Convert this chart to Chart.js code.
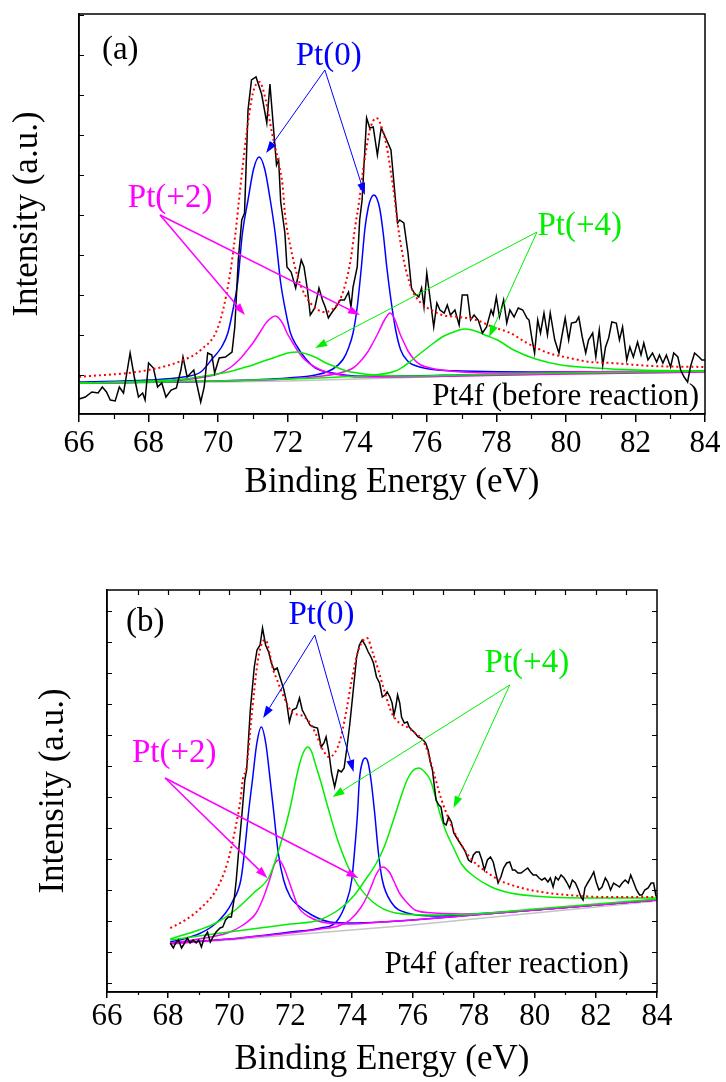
<!DOCTYPE html>
<html>
<head>
<meta charset="utf-8">
<script src="https://cdn.jsdelivr.net/npm/chart.js@4.4.1/dist/chart.umd.min.js"></script>
<style>
  html, body { margin: 0; padding: 0; background: #fff; }
  #wrap { position: relative; width: 726px; height: 1082px; }
  .panel { position: absolute; left: 0; width: 726px; }
  #pa { top: 0; height: 510px; }
  #pb { top: 540px; height: 542px; }
</style>
</head>
<body>
<div id="wrap">
  <div class="panel" id="pa"><canvas id="chart-a"></canvas></div>
  <div class="panel" id="pb"><canvas id="chart-b"></canvas></div>
</div>
<script>
// ---------------- data: [binding energy (eV), intensity (a.u.)] ----------------
// (a) before reaction
const aRaw = [[66.0,15],[66.18,17],[66.37,22],[66.55,21],[66.67,27],[66.79,22],[66.9,14],[67.04,13],[67.16,27],[67.28,21],[67.47,61],[67.59,37],[67.71,17],[67.83,21],[67.9,14],[68.0,51],[68.14,46],[68.26,27],[68.38,31],[68.5,17],[68.65,24],[68.8,26],[68.93,44],[68.99,57],[69.11,37],[69.3,44],[69.38,31],[69.5,12],[69.6,27],[69.7,61],[69.82,59],[69.9,41],[70.03,56],[70.21,57],[70.4,62],[70.48,87],[70.58,154],[70.68,194],[70.76,201],[70.86,304],[70.96,334],[71.09,337],[71.25,320],[71.4,291],[71.49,330],[71.62,274],[71.68,249],[71.74,254],[71.8,212],[71.92,181],[71.98,147],[72.1,142],[72.23,126],[72.39,154],[72.47,147],[72.57,124],[72.65,99],[72.78,106],[72.9,126],[73.0,114],[73.08,107],[73.17,96],[73.26,101],[73.39,107],[73.51,114],[73.63,114],[73.75,122],[73.82,107],[73.88,127],[74.0,147],[74.07,194],[74.14,214],[74.27,296],[74.36,286],[74.46,287],[74.58,259],[74.69,286],[74.82,276],[74.97,264],[75.1,214],[75.16,191],[75.22,194],[75.34,191],[75.46,161],[75.56,126],[75.64,121],[75.77,117],[75.85,126],[75.92,107],[76.0,141],[76.09,117],[76.2,87],[76.29,111],[76.38,104],[76.5,101],[76.59,109],[76.68,99],[76.81,104],[76.93,89],[77.02,119],[77.17,119],[77.26,94],[77.36,99],[77.48,94],[77.6,81],[77.72,87],[77.85,104],[77.91,99],[78.0,117],[78.09,97],[78.21,114],[78.3,91],[78.39,104],[78.51,97],[78.63,106],[78.76,104],[78.88,96],[78.94,94],[79.03,74],[79.1,61],[79.19,94],[79.27,81],[79.37,101],[79.47,79],[79.55,101],[79.68,74],[79.8,61],[79.88,77],[79.98,96],[80.08,74],[80.16,91],[80.29,92],[80.37,97],[80.47,77],[80.57,61],[80.65,74],[80.77,81],[80.86,57],[80.96,84],[81.06,49],[81.14,67],[81.23,76],[81.32,92],[81.45,91],[81.54,74],[81.63,87],[81.75,54],[81.84,67],[81.94,57],[82.06,72],[82.16,59],[82.24,71],[82.36,54],[82.49,61],[82.61,52],[82.69,59],[82.79,51],[82.89,59],[83.01,47],[83.1,61],[83.22,57],[83.3,44],[83.4,37],[83.5,32],[83.58,47],[83.7,61],[83.83,57],[83.91,54],[84.0,54]];
const aFit = [[66,37],[68,44],[69,54],[69.5,64],[70,87],[70.3,131],[70.5,181],[70.6,214],[70.82,281],[71.0,321],[71.19,332],[71.37,314],[71.55,281],[71.74,251],[71.86,227],[71.92,201],[72.1,164],[72.29,137],[72.53,117],[72.77,107],[73.02,102],[73.26,104],[73.5,114],[73.69,134],[73.81,154],[73.94,187],[74.06,214],[74.18,247],[74.27,267],[74.36,284],[74.55,296],[74.73,284],[74.85,267],[74.97,241],[75.07,217],[75.16,191],[75.28,164],[75.4,144],[75.58,124],[75.83,111],[76.13,104],[76.44,99],[76.93,97],[77.42,94],[77.9,87],[78.4,81],[78.88,71],[79.5,61],[80.1,56],[80.7,52],[81.3,51],[82.5,48],[84,47]];
const aBase = [[66,31],[70,32],[72,33],[74,35],[76,37],[78,39],[80,40],[84,42]];
const aPt0Low = [[66,32],[68,34],[69,37],[69.5,42],[69.85,56],[70.1,67],[70.28,81],[70.42,103],[70.56,131],[70.7,181],[70.86,214],[71.02,245],[71.18,257],[71.34,245],[71.5,214],[71.64,181],[71.8,131],[71.94,103],[72.08,81],[72.28,67],[72.5,56],[72.8,46],[73.3,41],[74,38],[75,38],[77,39],[80,41],[84,43]];
const aPt0High = [[66,31],[70,33],[72,36],[72.8,39],[73.3,45],[73.6,55],[73.75,66],[73.88,81],[74.0,107],[74.12,147],[74.22,185],[74.32,207],[74.4,216],[74.48,219],[74.56,216],[74.65,205],[74.75,180],[74.85,147],[74.97,114],[75.1,85],[75.25,64],[75.45,53],[75.8,47],[76.3,44],[77,43],[79,42],[84,43]];
const aPt2Low = [[66,31],[68,32],[69,34],[69.6,37],[70.0,40],[70.33,46],[70.6,54],[70.82,63],[71.0,71],[71.19,81],[71.4,92],[71.65,98],[71.85,91],[71.98,81],[72.15,71],[72.29,63],[72.5,54],[72.78,47],[73.1,42],[73.5,39],[74,37],[75,37],[77,38],[80,40],[84,42]];
const aPt2High = [[66,31],[70,33],[72,35],[73,38],[73.5,41],[73.88,46],[74.1,53],[74.3,62],[74.45,71],[74.6,81],[74.8,95],[74.95,101],[75.1,93],[75.22,81],[75.35,71],[75.46,63],[75.65,54],[75.83,49],[76.1,46],[76.44,44],[77,42],[78,41],[80,42],[84,43]];
const aPt4Low = [[66,31],[68,33],[69,35],[69.97,40],[70.4,43],[70.7,46],[71.0,49],[71.4,54],[71.74,58],[72.0,61],[72.3,62],[72.55,60],[72.84,56],[73.1,51],[73.39,47],[73.7,43],[74.0,41],[74.5,39],[75.5,38],[77,39],[80,41],[84,43]];
const aPt4High = [[66,31],[70,33],[72,35],[73.5,37],[74.5,39],[75.1,43],[75.35,48],[75.58,54],[75.9,63],[76.2,71],[76.44,77],[76.7,81],[76.93,84],[77.1,85],[77.3,84],[77.48,82],[77.75,78],[78.03,74],[78.5,64],[79.13,55],[79.86,49],[80.84,46],[82.06,44],[84,43]];

// (b) after reaction
const bRaw = [[68.07,49],[68.17,44],[68.25,49],[68.34,52],[68.44,44],[68.54,49],[68.63,54],[68.72,49],[68.82,52],[68.92,49],[69.0,52],[69.09,45],[69.19,55],[69.29,60],[69.38,50],[69.47,55],[69.57,60],[69.7,64],[69.79,65],[69.88,72],[69.97,75],[70.07,75],[70.17,95],[70.23,112],[70.32,145],[70.42,179],[70.51,212],[70.57,222],[70.69,282],[70.82,325],[70.91,342],[71.01,347],[71.09,364],[71.19,347],[71.29,340],[71.38,329],[71.47,322],[71.57,324],[71.69,312],[71.79,302],[71.88,289],[71.97,270],[72.07,282],[72.2,284],[72.3,294],[72.39,282],[72.51,275],[72.64,267],[72.76,265],[72.89,264],[73.01,245],[73.1,249],[73.17,255],[73.26,240],[73.35,219],[73.45,205],[73.57,222],[73.67,220],[73.76,224],[73.85,244],[73.95,269],[74.07,305],[74.17,335],[74.26,347],[74.35,352],[74.45,347],[74.55,340],[74.64,335],[74.72,329],[74.82,315],[74.92,309],[75.01,295],[75.1,297],[75.17,300],[75.26,295],[75.33,289],[75.39,277],[75.45,285],[75.51,297],[75.58,289],[75.64,275],[75.73,269],[75.83,270],[75.89,265],[75.98,262],[76.08,259],[76.18,255],[76.26,254],[76.35,252],[76.43,249],[76.51,242],[76.58,230],[76.65,222],[76.7,209],[76.77,192],[76.86,187],[76.93,185],[77.02,169],[77.1,167],[77.18,175],[77.27,170],[77.35,159],[77.45,154],[77.55,149],[77.64,145],[77.73,140],[77.83,132],[77.92,130],[77.99,137],[78.08,140],[78.18,140],[78.27,132],[78.35,122],[78.45,132],[78.55,135],[78.64,130],[78.7,122],[78.8,109],[78.89,115],[78.98,124],[79.08,129],[79.18,130],[79.27,122],[79.35,122],[79.45,119],[79.55,119],[79.68,122],[79.77,124],[79.86,120],[79.95,117],[80.05,117],[80.14,114],[80.23,112],[80.33,114],[80.43,110],[80.51,114],[80.6,105],[80.68,115],[80.77,112],[80.86,117],[80.96,114],[81.06,109],[81.14,104],[81.23,112],[81.33,109],[81.43,102],[81.51,95],[81.58,92],[81.64,104],[81.73,109],[81.83,114],[81.93,120],[82.01,110],[82.1,102],[82.2,105],[82.31,114],[82.39,110],[82.48,102],[82.58,109],[82.68,107],[82.77,105],[82.86,109],[82.96,112],[83.06,109],[83.14,117],[83.23,110],[83.33,102],[83.43,97],[83.51,97],[83.6,102],[83.71,104],[83.81,109],[83.89,109],[83.96,97],[84.0,94]];
const bFit = [[68.07,64],[68.57,72],[69.07,84],[69.57,102],[69.94,129],[70.19,162],[70.38,195],[70.44,212],[70.57,225],[70.69,262],[70.82,302],[70.94,332],[71.07,349],[71.19,352],[71.32,339],[71.44,322],[71.57,312],[71.69,302],[71.88,289],[72.07,279],[72.32,277],[72.57,272],[72.82,259],[73.07,242],[73.26,235],[73.45,239],[73.63,252],[73.82,279],[74.01,312],[74.2,339],[74.35,350],[74.51,354],[74.7,339],[74.88,322],[75.07,302],[75.32,279],[75.57,269],[75.82,265],[76.08,259],[76.33,252],[76.51,239],[76.64,225],[76.76,212],[76.95,192],[77.2,172],[77.45,155],[77.7,142],[77.95,132],[78.33,122],[78.83,112],[79.45,105],[80.21,100],[81.08,97],[82.33,95],[84,95]];
const bBase = [[68.07,48],[70,52],[72,57],[74,62],[76,67],[78,73],[80,79],[82,85],[84,91]];
const bPt0Low = [[68.07,50],[68.5,53],[69,58],[69.5,67],[69.88,79],[70.1,90],[70.38,112],[70.5,140],[70.63,179],[70.76,212],[70.9,248],[71.05,265],[71.2,248],[71.34,212],[71.46,179],[71.6,140],[71.78,112],[72,95],[72.2,88],[72.7,77],[73.3,70],[74,69],[75,70],[76,72],[78,77],[80,82],[82,87],[84,92]];
const bPt0High = [[68.07,49],[70,53],[72,60],[73,64],[73.5,70],[73.82,89],[74.01,112],[74.1,140],[74.2,179],[74.26,212],[74.36,230],[74.45,234],[74.54,230],[74.64,212],[74.76,179],[74.88,140],[75.01,112],[75.32,89],[75.82,79],[76.7,76],[78,78],[80,82],[82,87],[84,92]];
const bPt2Low = [[68.07,49],[69,53],[69.94,59],[70.4,66],[70.88,79],[71.1,93],[71.32,112],[71.5,129],[71.63,132],[71.78,125],[71.94,112],[72.1,98],[72.26,85],[72.63,75],[73.2,69],[74,68],[75,70],[76,72],[78,77],[80,82],[82,87],[84,92]];
const bPt2High = [[68.07,48],[70,53],[72,59],[73,63],[73.57,66],[73.95,72],[74.32,85],[74.5,95],[74.64,105],[74.8,117],[74.95,124],[75.05,125],[75.15,123],[75.26,119],[75.4,110],[75.57,99],[75.8,90],[76.08,82],[76.7,79],[78,78],[80,82],[82,87],[84,92]];
const bPt4Low = [[68.07,53],[69,62],[69.57,69],[70.2,82],[70.8,99],[71.32,116],[71.7,150],[72.0,185],[72.2,215],[72.32,230],[72.45,241],[72.57,245],[72.7,240],[72.82,228],[73.0,210],[73.2,188],[73.57,150],[74.07,114],[74.7,90],[75.45,79],[76.5,77],[78,78],[80,83],[82,88],[84,93]];
const bPt4High = [[68.07,52],[69,56],[70,60],[71,64],[72,68],[72.95,72],[73.7,85],[74.1,97],[74.45,112],[74.8,128],[75.07,145],[75.3,165],[75.45,179],[75.65,198],[75.82,212],[76.0,221],[76.2,224],[76.4,220],[76.58,212],[76.75,195],[76.89,179],[77.1,160],[77.33,145],[77.6,128],[77.95,117],[78.58,105],[79.2,99],[80.45,95],[82,94],[84,94]];

// axis ticks (no labels on y)
const xTickLabels = [66, 68, 70, 72, 74, 76, 78, 80, 82, 84];
const xMinorTicks = [67, 69, 71, 73, 75, 77, 79, 81, 83];
const xTopTicksB = [67, 68, 69, 70, 71, 72, 73, 74, 75, 76, 77, 78, 79, 80, 81, 82, 83];
const yTicksA = [39, 79, 119, 159, 199, 239, 279, 319, 359, 399];
const yTicksB = [9, 40, 71, 102, 133, 164, 195, 226, 257, 288, 319, 350, 381];

// ---------------- styling ----------------
const SERIF = "'Liberation Serif', 'Times New Roman', serif";
const C = { blue: '#0000ff', magenta: '#ff00ff', green: '#00ee00', red: '#ff0000', grey: '#c4c4c4', black: '#000' };

const pts = arr => arr.map(p => ({ x: p[0], y: p[1] }));

function curve(arr, color, extra) {
  return Object.assign({
    data: pts(arr), borderColor: color, borderWidth: 1.5, pointRadius: 0,
    fill: false, cubicInterpolationMode: 'monotone', order: 2,
  }, extra || {});
}

// frame + inward/minor ticks
const framePlugin = {
  id: 'frame',
  afterDraw(chart, args, o) {
    const { ctx, chartArea: ca, scales: { x, y } } = chart;
    ctx.save();
    ctx.strokeStyle = '#000';
    ctx.lineWidth = 1.5;
    ctx.strokeRect(ca.left, ca.top, ca.right - ca.left, ca.bottom - ca.top);
    ctx.lineWidth = 1.2;
    ctx.beginPath();
    (o.left || []).forEach(v => { const py = Math.round(y.getPixelForValue(v)) + 0.5; ctx.moveTo(ca.left, py); ctx.lineTo(ca.left + o.inLen, py); });
    (o.right || []).forEach(v => { const py = Math.round(y.getPixelForValue(v)) + 0.5; ctx.moveTo(ca.right, py); ctx.lineTo(ca.right - o.inLen, py); });
    (o.top || []).forEach(v => { const px = Math.round(x.getPixelForValue(v)) + 0.5; ctx.moveTo(px, ca.top); ctx.lineTo(px, ca.top + o.inLen); });
    (o.minor || []).forEach(v => { const px = Math.round(x.getPixelForValue(v)) + 0.5; ctx.moveTo(px, ca.bottom); ctx.lineTo(px, ca.bottom + o.minorLen); });
    ctx.stroke();
    ctx.restore();
  }
};

// labels + arrows placed in data coordinates
const notesPlugin = {
  id: 'notes',
  afterDatasetsDraw(chart, args, o) {
    const { ctx, scales: { x, y } } = chart;
    ctx.save();
    (o.arrows || []).forEach(a => {
      const x1 = x.getPixelForValue(a.from[0]), y1 = y.getPixelForValue(a.from[1]);
      a.to.forEach(t => {
        const x2 = x.getPixelForValue(t[0]), y2 = y.getPixelForValue(t[1]);
        const ang = Math.atan2(y2 - y1, x2 - x1), L = 12, W = 4;
        const bx = x2 - L * Math.cos(ang), by = y2 - L * Math.sin(ang);
        ctx.strokeStyle = a.color; ctx.fillStyle = a.color; ctx.lineWidth = a.lw || 1;
        ctx.beginPath(); ctx.moveTo(x1, y1); ctx.lineTo(bx, by); ctx.stroke();
        ctx.beginPath();
        ctx.moveTo(x2, y2);
        ctx.lineTo(bx + W * Math.sin(ang), by - W * Math.cos(ang));
        ctx.lineTo(bx - W * Math.sin(ang), by + W * Math.cos(ang));
        ctx.closePath(); ctx.fill();
      });
    });
    (o.labels || []).forEach(l => {
      ctx.font = `${l.size}px ${SERIF}`;
      ctx.fillStyle = l.color;
      ctx.textAlign = l.align;
      ctx.textBaseline = 'middle';
      ctx.fillText(l.text, x.getPixelForValue(l.x), y.getPixelForValue(l.y));
    });
    ctx.restore();
  }
};

function makePanel(id, p) {
  const datasets = [
    curve(p.base, C.grey, { order: 4, cubicInterpolationMode: 'default', tension: 0 }),
    curve(p.pt4[0], C.green), curve(p.pt4[1], C.green),
    curve(p.pt2[0], C.magenta), curve(p.pt2[1], C.magenta),
    curve(p.pt0[0], C.blue), curve(p.pt0[1], C.blue),
    curve(p.raw, C.black, { cubicInterpolationMode: 'default', tension: 0, order: 1 }),
    curve(p.fit, C.red, { borderDash: [2, 3], borderWidth: 2, order: 0 }),
  ];
  new Chart(document.getElementById(id), {
    type: 'line',
    data: { datasets },
    plugins: [framePlugin, notesPlugin],
    options: {
      responsive: true, maintainAspectRatio: false, animation: false, events: [],
      layout: { padding: p.pad },
      plugins: {
        legend: { display: false }, tooltip: { enabled: false },
        frame: p.frame, notes: p.notes,
      },
      scales: {
        x: {
          type: 'linear', min: 66, max: 84,
          afterBuildTicks: s => { s.ticks = xTickLabels.map(v => ({ value: v })); },
          ticks: { color: '#000', font: { family: SERIF, size: 31 }, padding: p.tickPad, maxRotation: 0, autoSkip: false },
          grid: { drawOnChartArea: false, color: '#000', tickLength: p.tickLen, lineWidth: 1.5 },
          border: { color: '#000', width: 1.5 },
          title: { display: true, text: 'Binding Energy (eV)', color: '#000', font: { family: SERIF, size: 35 }, padding: { top: 0, bottom: p.xTitlePad } },
          afterFit: s => { s.height = p.xH; },
        },
        y: {
          min: 0, max: p.yMax,
          ticks: { display: false },
          grid: { display: false },
          border: { color: '#000', width: 1.5 },
          title: { display: true, text: 'Intensity (a.u.)', color: '#000', font: { family: SERIF, size: 35 }, padding: { top: p.yTitlePad, bottom: 0 } },
          afterFit: s => { s.width = p.yW; },
        },
      },
    },
  });
}

makePanel('chart-a', {
  raw: aRaw, fit: aFit, base: aBase,
  pt0: [aPt0Low, aPt0High], pt2: [aPt2Low, aPt2High], pt4: [aPt4Low, aPt4High],
  pad: { top: 14, right: 21, left: 0, bottom: 0 }, xH: 96, yW: 79, yMax: 400,
  tickPad: 3, tickLen: 8, xTitlePad: 6, yTitlePad: 7,
  frame: { left: yTicksA, inLen: 5, minor: xMinorTicks, minorLen: 5 },
  notes: {
    labels: [
      { text: '(a)', x: 66.66, y: 364, color: C.black, align: 'left', size: 33 },
      { text: 'Pt(0)', x: 73.18, y: 358, color: C.blue, align: 'center', size: 33 },
      { text: 'Pt(+2)', x: 68.62, y: 216, color: C.magenta, align: 'center', size: 33 },
      { text: 'Pt(+4)', x: 80.4, y: 188, color: C.green, align: 'center', size: 33 },
      { text: 'Pt4f (before reaction)', x: 83.83, y: 17, color: C.black, align: 'right', size: 31 },
    ],
    arrows: [
      { from: [73.07, 344], to: [[71.38, 261], [74.22, 219]], color: C.blue },
      { from: [68.33, 199], to: [[70.77, 99], [74.08, 99]], color: C.magenta, lw: 1.5 },
      { from: [79.17, 182], to: [[72.79, 66], [77.79, 77]], color: C.green },
    ],
  },
});

makePanel('chart-b', {
  raw: bRaw, fit: bFit, base: bBase,
  pt0: [bPt0Low, bPt0High], pt2: [bPt2Low, bPt2High], pt4: [bPt4Low, bPt4High],
  pad: { top: 50, right: 69, left: 0, bottom: 0 }, xH: 90, yW: 107, yMax: 402,
  tickPad: 0, tickLen: 6, xTitlePad: 1, yTitlePad: 33,
  frame: { left: yTicksB, right: yTicksB, top: xTopTicksB, inLen: 5, minor: xMinorTicks, minorLen: 3 },
  notes: {
    labels: [
      { text: '(b)', x: 66.62, y: 370, color: C.black, align: 'left', size: 33 },
      { text: 'Pt(0)', x: 73.02, y: 377, color: C.blue, align: 'center', size: 33 },
      { text: 'Pt(+2)', x: 68.2, y: 239, color: C.magenta, align: 'center', size: 33 },
      { text: 'Pt(+4)', x: 79.74, y: 329, color: C.green, align: 'center', size: 33 },
      { text: 'Pt4f (after reaction)', x: 83.08, y: 27, color: C.black, align: 'right', size: 31 },
    ],
    arrows: [
      { from: [72.8, 357], to: [[71.11, 274], [74.07, 220]], color: C.blue },
      { from: [67.9, 214], to: [[71.25, 114], [74.23, 114]], color: C.magenta, lw: 1.5 },
      { from: [79.18, 307], to: [[73.38, 195], [77.34, 184]], color: C.green },
    ],
  },
});
</script>
</body>
</html>
